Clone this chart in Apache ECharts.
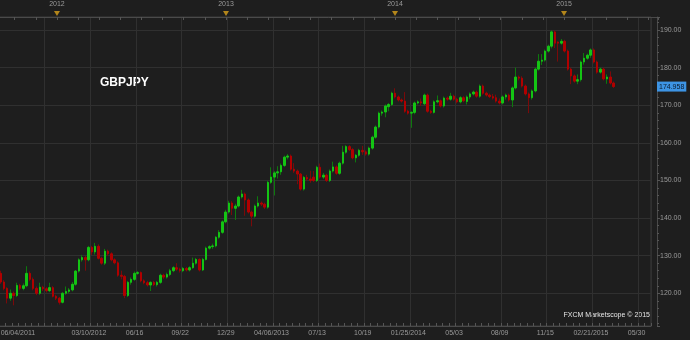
<!DOCTYPE html>
<html><head><meta charset="utf-8">
<script src="https://cdn.jsdelivr.net/npm/echarts@6/dist/echarts.min.js"></script>
<style>html,body{margin:0;padding:0;background:#1e1e1e}#c{width:690px;height:340px}</style>
</head><body><div id="c"></div>
<script>
const symbolName = 'GBPJPY';
const footerText = 'FXCM Marketscope \u00A9 2015';
const open = [125.3,123.0,121.3,118.7,120.0,119.4,122.1,121.3,122.0,125.3,123.7,121.3,120.0,121.6,121.2,120.7,121.5,119.2,118.7,117.6,120.0,120.5,120.9,122.4,125.9,128.9,129.5,128.9,132.2,131.0,132.5,129.3,128.0,131.2,130.5,128.9,128.1,124.8,124.5,119.4,122.9,123.7,125.3,125.5,123.3,122.8,122.2,122.9,122.3,122.9,124.8,124.3,125.0,126.0,126.8,126.4,126.0,126.6,126.2,126.8,128.0,129.0,126.2,129.0,132.0,132.4,132.6,134.9,136.2,139.0,141.6,144.0,142.6,143.2,145.6,146.4,144.8,141.6,140.5,143.2,144.0,143.7,142.9,149.5,150.9,152.0,152.3,154.0,156.2,156.5,153.0,152.5,151.7,147.7,150.8,150.4,150.9,150.0,153.5,150.9,151.4,150.0,152.5,153.6,151.9,154.6,157.5,159.0,158.2,156.0,156.7,158.0,157.6,157.0,158.6,161.5,164.2,167.9,168.2,169.6,170.2,173.2,172.2,171.4,171.1,168.4,167.9,168.1,170.6,170.9,170.4,172.7,168.4,168.1,170.9,171.2,169.8,171.9,171.6,172.4,171.6,170.9,172.0,171.0,172.2,173.0,173.5,172.4,175.1,173.2,172.7,172.3,172.0,171.1,170.6,172.2,172.7,171.4,174.6,177.5,177.2,175.1,173.0,172.0,173.8,179.6,181.7,182.0,184.4,185.7,189.5,186.8,186.5,187.0,184.4,179.6,177.8,176.4,176.8,181.5,182.5,183.3,184.7,181.5,178.8,179.6,177.0,177.5,175.9];
const high = [126.0,123.5,121.6,121.0,120.5,122.8,122.5,122.6,127.2,125.8,124.2,121.8,122.8,122.0,121.6,122.8,121.9,119.6,119.0,120.3,121.8,121.4,123.0,126.2,129.3,130.2,129.9,132.6,132.6,133.4,133.0,129.7,131.8,131.6,130.9,129.3,128.5,126.0,124.9,123.3,124.2,125.8,125.9,125.8,123.7,123.3,123.2,123.3,123.3,125.2,125.2,125.5,126.5,127.2,128.0,126.8,127.0,127.0,127.2,129.5,129.4,129.3,129.4,132.4,132.8,133.2,135.2,136.8,139.4,142.2,144.6,144.5,143.8,146.0,147.5,146.8,145.2,142.0,143.6,145.8,144.4,144.1,149.9,153.5,152.5,153.8,154.5,156.6,157.0,156.9,154.6,152.9,152.0,151.2,151.5,152.6,152.5,153.9,154.5,152.0,151.8,152.9,155.0,154.0,155.0,159.2,159.4,159.4,158.6,157.0,158.4,159.2,158.0,159.0,161.9,164.6,168.3,168.6,170.2,170.6,173.6,174.5,172.6,171.8,173.5,168.8,168.4,171.0,171.3,171.8,173.1,173.1,168.8,171.3,172.6,171.5,172.3,172.3,173.3,172.8,172.0,172.4,172.4,172.6,173.4,173.9,173.9,175.5,175.5,173.6,173.1,173.0,172.8,171.8,172.6,173.1,173.1,175.0,180.0,177.9,177.7,175.5,173.4,174.2,180.0,183.6,183.6,184.8,186.1,189.9,189.9,187.0,187.6,187.4,184.8,180.0,178.2,178.2,181.9,183.9,183.7,185.1,185.1,181.9,180.0,180.0,178.2,179.0,176.3];
const low = [122.5,120.8,117.3,118.0,116.8,119.0,120.8,120.8,121.6,123.2,120.8,119.5,119.6,120.6,120.2,120.3,118.9,118.2,117.0,117.3,119.6,120.0,120.5,122.0,125.5,128.4,126.0,128.5,130.2,130.3,129.0,127.6,127.5,130.0,128.5,127.7,124.4,123.7,118.7,119.0,122.3,123.3,124.9,122.9,122.4,121.8,120.6,121.9,121.8,122.5,123.8,123.9,124.6,125.6,126.0,125.5,125.6,125.8,125.8,126.5,127.6,125.8,125.9,128.7,131.6,131.8,132.2,134.5,135.8,138.6,141.2,140.8,139.5,142.8,145.2,140.6,141.2,137.8,140.1,142.8,143.2,142.4,142.5,149.1,146.0,150.5,151.5,153.6,155.6,152.6,152.0,149.0,147.3,147.3,150.0,149.4,149.6,149.6,150.5,150.4,149.6,149.6,152.1,151.5,151.5,154.2,157.1,157.8,155.6,154.8,156.3,156.8,156.6,156.6,158.2,161.1,163.8,167.2,166.8,168.4,169.8,171.8,171.0,170.7,168.0,167.5,164.0,167.6,170.2,169.8,170.0,168.0,167.7,167.8,170.5,169.4,169.4,171.2,171.2,171.2,170.5,170.5,170.8,170.2,171.6,172.6,172.0,172.0,172.8,172.3,171.9,171.5,170.7,170.2,170.2,171.5,171.0,169.5,174.2,176.6,174.7,172.6,167.9,171.5,173.4,179.2,180.7,181.6,184.0,185.1,185.2,181.6,186.1,184.0,179.2,175.6,176.0,175.6,176.3,180.8,182.1,182.6,181.1,178.4,178.4,176.6,175.7,175.5,174.6];
const close = [123.0,121.3,118.7,120.0,119.4,122.1,121.3,122.0,125.3,123.7,121.3,120.0,121.6,121.2,120.7,121.5,119.2,118.7,117.6,120.0,120.5,120.9,122.4,125.9,128.9,129.5,128.9,132.2,131.0,132.5,129.3,128.0,131.2,130.5,128.9,128.1,124.8,124.5,119.4,122.9,123.7,125.3,125.5,123.3,122.8,122.2,122.9,122.3,122.9,124.8,124.3,125.0,126.0,126.8,126.4,126.0,126.6,126.2,126.8,128.0,129.0,126.2,129.0,132.0,132.4,132.6,134.9,136.2,139.0,141.6,144.0,142.6,143.2,145.6,146.4,144.8,141.6,140.5,143.2,144.0,143.7,142.9,149.5,150.9,152.0,152.3,154.0,156.2,156.5,153.0,152.5,151.7,147.7,150.8,150.4,150.0,150.0,153.5,150.9,151.4,150.0,152.5,153.6,151.9,154.6,157.5,159.0,158.2,156.0,156.7,158.0,157.6,157.0,158.6,161.5,164.2,167.9,168.2,169.8,170.2,173.2,172.2,171.4,171.1,168.4,167.9,168.1,170.6,170.9,170.6,172.7,168.4,168.1,170.9,171.2,169.8,171.9,171.6,172.4,171.6,170.9,172.0,171.2,172.2,173.0,173.5,172.4,175.1,173.2,172.7,172.3,171.9,171.1,170.6,172.2,172.7,171.4,174.6,177.5,177.2,175.1,173.0,172.0,173.8,179.6,181.7,182.0,184.4,185.7,189.5,186.5,186.5,187.0,184.4,179.6,177.8,176.4,176.8,181.5,182.5,183.3,184.7,181.5,178.8,179.6,177.0,177.5,175.9,174.958];
const slotCount = 200;
const tickIndex = [0, 28, 42, 56, 70, 84, 98, 112, 126, 140, 154, 168, 182, 196];
const tickText = ['06/04/2011','03/10/2012','06/16','09/22','12/29','04/06/2013','07/13','10/19','01/25/2014','05/03','08/09','11/15','02/21/2015','05/30'];
const gridEvery = 14;
const yearMarks = [2012, 2013, 2014, 2015];
const lastPrice = 174.958;

const labelMap = {};
tickIndex.forEach((k, j) => { labelMap[k] = tickText[j]; });
const cats = [];
for (let k = 0; k < slotCount; k++) cats.push(String(k));
const full = open.map((o, i) => [o, close[i], low[i], high[i]]);
const bodies = open.map((o, i) => [o, close[i], Math.min(o, close[i]), Math.max(o, close[i])]);

const FONT = '"Liberation Sans", Arial, sans-serif';
const chart = echarts.init(document.getElementById('c'), null, {renderer: 'canvas'});
chart.setOption({
  backgroundColor: '#1e1e1e',
  animation: false,
  textStyle: {fontFamily: FONT},
  grid: [
    {left: -1, right: 39, top: 17, bottom: 14, show: true, borderColor: '#3a3a3a', borderWidth: 1, containLabel: false, outerBoundsMode: 'none'},
    {left: -6.4, right: 32, top: 10, height: 7, containLabel: false, outerBoundsMode: 'none'}
  ],
  xAxis: [
    {
      type: 'category', data: cats, boundaryGap: true, gridIndex: 0,
      axisLine: {show: true, lineStyle: {color: '#4a4a4a'}},
      axisTick: {show: true, inside: true, length: 3, interval: 1, lineStyle: {color: '#555'}},
      axisLabel: {
        interval: (idx) => labelMap[idx] !== undefined,
        formatter: (v, idx) => labelMap[idx] || '',
        color: '#9a9a9a', fontSize: 7, margin: 4, padding: [0, 6, 0, 0],
        alignMinLabel: 'left', fontFamily: FONT
      },
      splitLine: {show: true, interval: (idx) => idx > 0 && idx % gridEvery === 0, lineStyle: {color: '#303030'}}
    },
    {
      type: 'value', gridIndex: 1, position: 'top', min: 2011.625, max: 2015.556, interval: 0.125,
      axisLine: {show: true, lineStyle: {color: '#4a4a4a'}},
      axisTick: {show: true, inside: true, length: 3, lineStyle: {color: '#555'}},
      axisLabel: {formatter: (v) => Number.isInteger(v) ? String(v) : '', color: '#9a9a9a', fontSize: 7, margin: 2, fontFamily: FONT},
      splitLine: {show: false}
    }
  ],
  yAxis: [
    {
      type: 'value', gridIndex: 0, position: 'right', offset: 6, min: 111.3, max: 193.46, splitNumber: 8,
      axisLine: {show: true, lineStyle: {color: '#4a4a4a'}},
      axisTick: {show: true, length: 3, lineStyle: {color: '#555'}},
      minorTick: {show: true, splitNumber: 5, length: 2, lineStyle: {color: '#555'}},
      splitLine: {show: true, lineStyle: {color: '#303030'}},
      axisLabel: {color: '#9a9a9a', fontSize: 7, margin: 3, formatter: (v) => v.toFixed(2), showMinLabel: false, showMaxLabel: false, fontFamily: FONT}
    },
    {type: 'value', gridIndex: 1, min: 0, max: 1, show: false}
  ],
  series: [
    {
      type: 'candlestick', name: 'wick', xAxisIndex: 0, yAxisIndex: 0, data: full, barWidth: 1, silent: true,
      itemStyle: {color: '#0d7a0d', color0: '#7a0a0a', borderColor: '#0d7a0d', borderColor0: '#7a0a0a', borderWidth: 1}
    },
    {
      type: 'candlestick', name: 'body', xAxisIndex: 0, yAxisIndex: 0, data: bodies, barWidth: 2, silent: true, z: 3,
      itemStyle: {color: '#14c414', color0: '#b00000', borderColor: '#14c414', borderColor0: '#b00000', borderWidth: 1},
      markLine: {
        silent: true, symbol: ['none', 'none'], animation: false,
        data: [{yAxis: lastPrice}],
        lineStyle: {color: 'rgba(0,0,0,0)', width: 1, type: 'solid'},
        label: {show: true, position: 'end', distance: 6, formatter: () => lastPrice.toFixed(3), backgroundColor: '#3d94e4', color: '#0b1b2e', fontSize: 7, padding: [2, 2, 1, 2], fontFamily: FONT}
      }
    },
    {
      type: 'scatter', xAxisIndex: 1, yAxisIndex: 1, silent: true,
      data: yearMarks.map(y => [y, 0.5]), symbol: 'triangle', symbolRotate: 180, symbolSize: [6, 5],
      itemStyle: {color: '#d8a01a'}
    }
  ],
  graphic: [
    {type: 'text', left: 100, top: 77, style: {text: symbolName, fill: '#ffffff', font: 'bold 12px ' + FONT}},
    {type: 'text', right: 40, top: 312, style: {text: footerText, fill: '#e6e6e6', font: '7px ' + FONT}}
  ]
});
</script></body></html>
